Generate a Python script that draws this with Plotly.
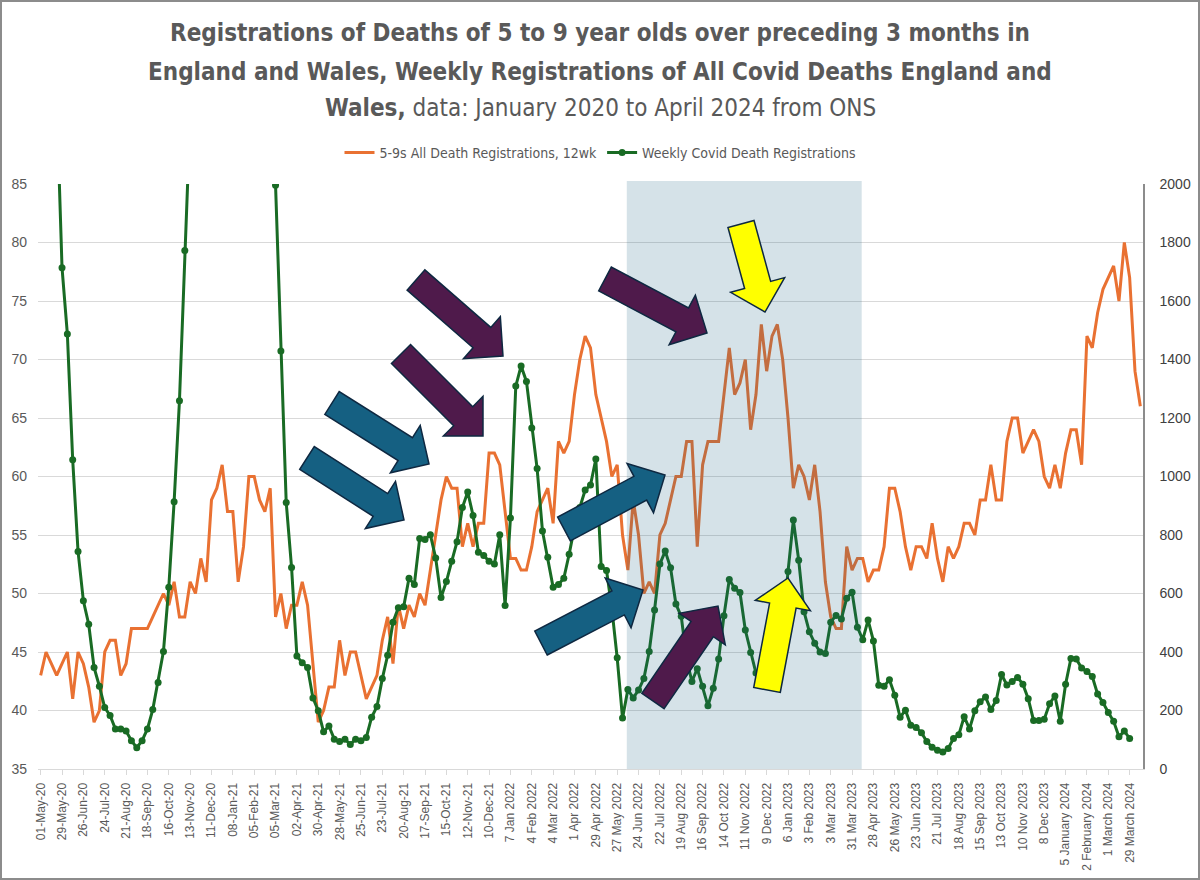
import plotly.graph_objects as go
import pandas as pd
import math

# ---------------- data ----------------
weeks = [d.strftime("%Y-%m-%d") for d in pd.date_range("2020-05-01", periods=207, freq="7D")]

deaths_5_9_12wk = [
    43, 45, 44, 43, 44, 45, 41, 45, 44, 42, 39, 40, 45, 46, 46, 43, 44, 47, 47, 47,
    47, 48, 49, 50, 49, 51, 48, 48, 51, 50, 53, 51, 58, 59, 61, 57, 57, 51, 54, 60,
    60, 58, 57, 59, 48, 50, 47, 49, 49, 51, 49, 44, 39, 40, 42, 42, 46, 43, 45, 45,
    43, 41, 42, 43, 46, 48, 44, 49, 47, 49, 48, 50, 49, 52, 55, 58, 60, 59, 59, 54,
    56, 54, 56, 56, 62, 62, 61, 57, 53, 53, 52, 52, 54, 57, 58, 59, 56, 63, 62, 63,
    67, 70, 72, 71, 67, 65, 63, 60, 61, 55, 52, 58, 55, 50, 51, 50, 55, 56, 58, 60,
    60, 63, 63, 54, 61, 63, 63, 63, 67, 71, 67, 68, 70, 64, 67, 73, 69, 72, 73, 70,
    65, 59, 61, 60, 58, 61, 57, 51, 48, 47, 47, 54, 52, 53, 53, 51, 52, 52, 54, 59,
    59, 57, 54, 52, 54, 54, 53, 56, 53, 51, 54, 53, 54, 56, 56, 55, 58, 58, 61, 58,
    58, 63, 65, 65, 62, 63, 64, 63, 60, 59, 61, 59, 62, 64, 64, 61, 72, 71, 74, 76,
    77, 78, 75, 80, 77, 69, 66,
]

covid_weekly = [
    6035, 3930, 3810, 2290, 1714, 1487, 1057, 744, 575, 495, 347, 283, 210, 183, 137, 137, 130, 97, 73, 97,
    137, 203, 296, 402, 621, 914, 1259, 1773, 2230, 2500, 2700, 2600, 2550, 2750, 3000, 2700, 3150, 5000, 6050, 7250,
    7300, 6150, 4850, 3000, 1996, 1429, 911, 689, 386, 363, 347, 243, 199, 127, 147, 102, 94, 102, 84, 102,
    97, 108, 177, 214, 309, 389, 502, 551, 555, 652, 631, 788, 785, 801, 721, 586, 641, 710, 777, 894,
    947, 867, 741, 730, 710, 701, 801, 559, 858, 1309, 1378, 1325, 1166, 1027, 814, 724, 621, 631, 652, 734,
    827, 894, 954, 971, 1060, 692, 679, 548, 380, 174, 272, 243, 270, 309, 402, 544, 701, 745, 688, 564,
    522, 376, 299, 343, 283, 216, 276, 376, 524, 648, 618, 603, 475, 398, 328, 300, 290, 350, 420, 480,
    675, 851, 714, 538, 469, 430, 400, 395, 502, 525, 513, 584, 604, 485, 442, 509, 438, 286, 283, 305,
    252, 177, 201, 150, 142, 124, 94, 74, 64, 58, 70, 104, 117, 179, 137, 199, 230, 246, 203, 234,
    323, 287, 299, 313, 290, 240, 166, 166, 170, 223, 250, 163, 290, 378, 376, 345, 333, 316, 256, 227,
    193, 163, 110, 130, 104, None, None,
]

tick_labels = [
    "01-May-20", "29-May-20", "26-Jun-20", "24-Jul-20", "21-Aug-20", "18-Sep-20", "16-Oct-20",
    "13-Nov-20", "11-Dec-20", "08-Jan-21", "05-Feb-21", "05-Mar-21", "02-Apr-21", "30-Apr-21",
    "28-May-21", "25-Jun-21", "23-Jul-21", "20-Aug-21", "17-Sep-21", "15-Oct-21", "12-Nov-21",
    "10-Dec-21", "7 Jan 2022", "4 Feb 2022", "4 Mar 2022", "1 Apr 2022", "29 Apr 2022",
    "27 May 2022", "24 Jun 2022", "22 Jul 2022", "19 Aug 2022", "16 Sep 2022", "14 Oct 2022",
    "11 Nov 2022", "9 Dec 2022", "6 Jan 2023", "3 Feb 2023", "3 Mar 2023", "31 Mar 2023",
    "28 Apr 2023", "26 May 2023", "23 Jun 2023", "21 Jul 2023", "18 Aug 2023", "15 Sep 2023",
    "13 Oct 2023", "10 Nov 2023", "8 Dec 2023", "5 January 2024", "2 February 2024",
    "1 March 2024", "29 March 2024",
]
tick_vals = weeks[::4][:len(tick_labels)]

title_lines = [
    "<b>Registrations of Deaths of 5 to 9 year olds over preceding 3 months in</b>",
    "<b>England and Wales, Weekly Registrations of All Covid Deaths England and</b>",
    "<b>Wales,</b> data: January 2020 to April 2024 from ONS",
]

# ---------------- figure ----------------
W, H = 1200, 880
PL, PR, PT, PB = 38, 1143, 184, 769   # plot area in pixels

fig = go.Figure()
fig.add_trace(go.Scatter(
    x=weeks, y=deaths_5_9_12wk, name="5-9s All Death Registrations, 12wk",
    mode="lines", line=dict(color="#E97132", width=3), yaxis="y"))
fig.add_trace(go.Scatter(
    x=weeks, y=covid_weekly, name="Weekly Covid Death Registrations",
    mode="lines+markers", line=dict(color="#196B24", width=3),
    marker=dict(color="#196B24", size=7), yaxis="y2"))


def px2paper(x, y):
    return (x - PL) / (PR - PL), (PB - y) / (PB - PT)


def arrow_path(tail, tip, shaft=27, head_w=56, head_l=28):
    tx, ty = tail
    px_, py_ = tip
    L = math.hypot(px_ - tx, py_ - ty)
    dx, dy = (px_ - tx) / L, (py_ - ty) / L
    nx, ny = -dy, dx
    bx, by = px_ - dx * head_l, py_ - dy * head_l
    pts = [
        (tx + nx * shaft / 2, ty + ny * shaft / 2),
        (bx + nx * shaft / 2, by + ny * shaft / 2),
        (bx + nx * head_w / 2, by + ny * head_w / 2),
        (px_, py_),
        (bx - nx * head_w / 2, by - ny * head_w / 2),
        (bx - nx * shaft / 2, by - ny * shaft / 2),
        (tx - nx * shaft / 2, ty - ny * shaft / 2),
    ]
    pp = [px2paper(*p) for p in pts]
    return "M " + " L ".join(f"{a:.5f},{b:.5f}" for a, b in pp) + " Z"


arrows = [
    ((416, 280), (503, 356), "#4F1A4B"),
    ((401, 354), (483, 436), "#4F1A4B"),
    ((605, 279), (707, 333), "#4F1A4B"),
    ((653, 701), (718, 606), "#4F1A4B"),
    ((332, 403), (429, 464), "#156082"),
    ((307, 458), (404, 520), "#156082"),
    ((564, 529), (665, 475), "#156082"),
    ((541, 643), (643, 590), "#156082"),
    ((741, 224), (765, 312), "#FFFF00"),
    ((767, 690), (788, 578), "#FFFF00"),
]

shapes = [
    # shaded period
    dict(type="rect", xref="x", yref="paper", x0=109.8, x1=153.8, y0=0, y1=1.005,
         fillcolor="rgba(21,96,130,0.18)", line=dict(width=0), layer="above"),
]
for tail, tip, col in arrows:
    shapes.append(dict(type="path", xref="paper", yref="paper", path=arrow_path(tail, tip),
                       fillcolor=col, line=dict(color="#0E2841", width=1.5), layer="above"))
# outer border
bx0, by0 = px2paper(1, 879)
bx1, by1 = px2paper(1199, 1)
shapes.append(dict(type="rect", xref="paper", yref="paper", x0=bx0, x1=bx1, y0=by0, y1=by1,
                   line=dict(color="#8C8C8C", width=2), fillcolor="rgba(0,0,0,0)", layer="above"))

TITLE_FONT = "DejaVu Sans Condensed, Liberation Sans Narrow, Roboto, sans-serif"
TICK_FONT = "Liberation Sans, Arial, sans-serif"

annotations = []
for txt, cy in zip(title_lines, [33, 72, 108]):
    ax, ay = px2paper(600, cy)
    annotations.append(dict(text=txt, x=ax, y=ay, xref="paper", yref="paper",
                            xanchor="center", yanchor="middle", showarrow=False,
                            font=dict(family=TITLE_FONT, size=24, color="#595959")))

fig.update_layout(
    width=W, height=H, template="plotly",
    margin=dict(l=PL, r=W - PR, t=PT, b=H - PB, pad=0, autoexpand=False),
    paper_bgcolor="white", plot_bgcolor="white",
    annotations=annotations,
    legend=dict(orientation="h", x=0.5, xref="container", xanchor="center",
                y=1 - 153 / H, yref="container", yanchor="middle",
                font=dict(family=TITLE_FONT, size=14, color="#595959"),
                bgcolor="rgba(0,0,0,0)", itemwidth=30),
    xaxis=dict(type="category", range=[-0.5, 206.5], tickmode="array",
               tickvals=tick_vals, ticktext=tick_labels, tickangle=-90,
               tickfont=dict(family=TICK_FONT, size=12, color="#595959"),
               showgrid=False, showline=True, linecolor="#D9D9D9", linewidth=1,
               ticks="outside", ticklen=5, tickcolor="#D9D9D9", zeroline=False,
               automargin=False, ticklabelstandoff=3),
    yaxis=dict(range=[35, 85], dtick=5, tick0=35, showgrid=True, gridcolor="#D9D9D9",
               gridwidth=1, zeroline=False, showline=False, ticks="",
               tickfont=dict(family=TICK_FONT, size=14, color="#595959"), ticklabelstandoff=10,
               automargin=False),
    yaxis2=dict(range=[0, 2000], dtick=200, tick0=0, overlaying="y", side="right",
                showgrid=False, zeroline=False, showline=True, linecolor="#8C8C8C", linewidth=1.5,
                ticks="", tickfont=dict(family=TICK_FONT, size=14, color="#404040"),
                ticklabelstandoff=12, automargin=False),
    shapes=shapes,
)

fig.write_html("out.html", config={"displayModeBar": False},
               post_script="document.body.style.margin='0px';")
